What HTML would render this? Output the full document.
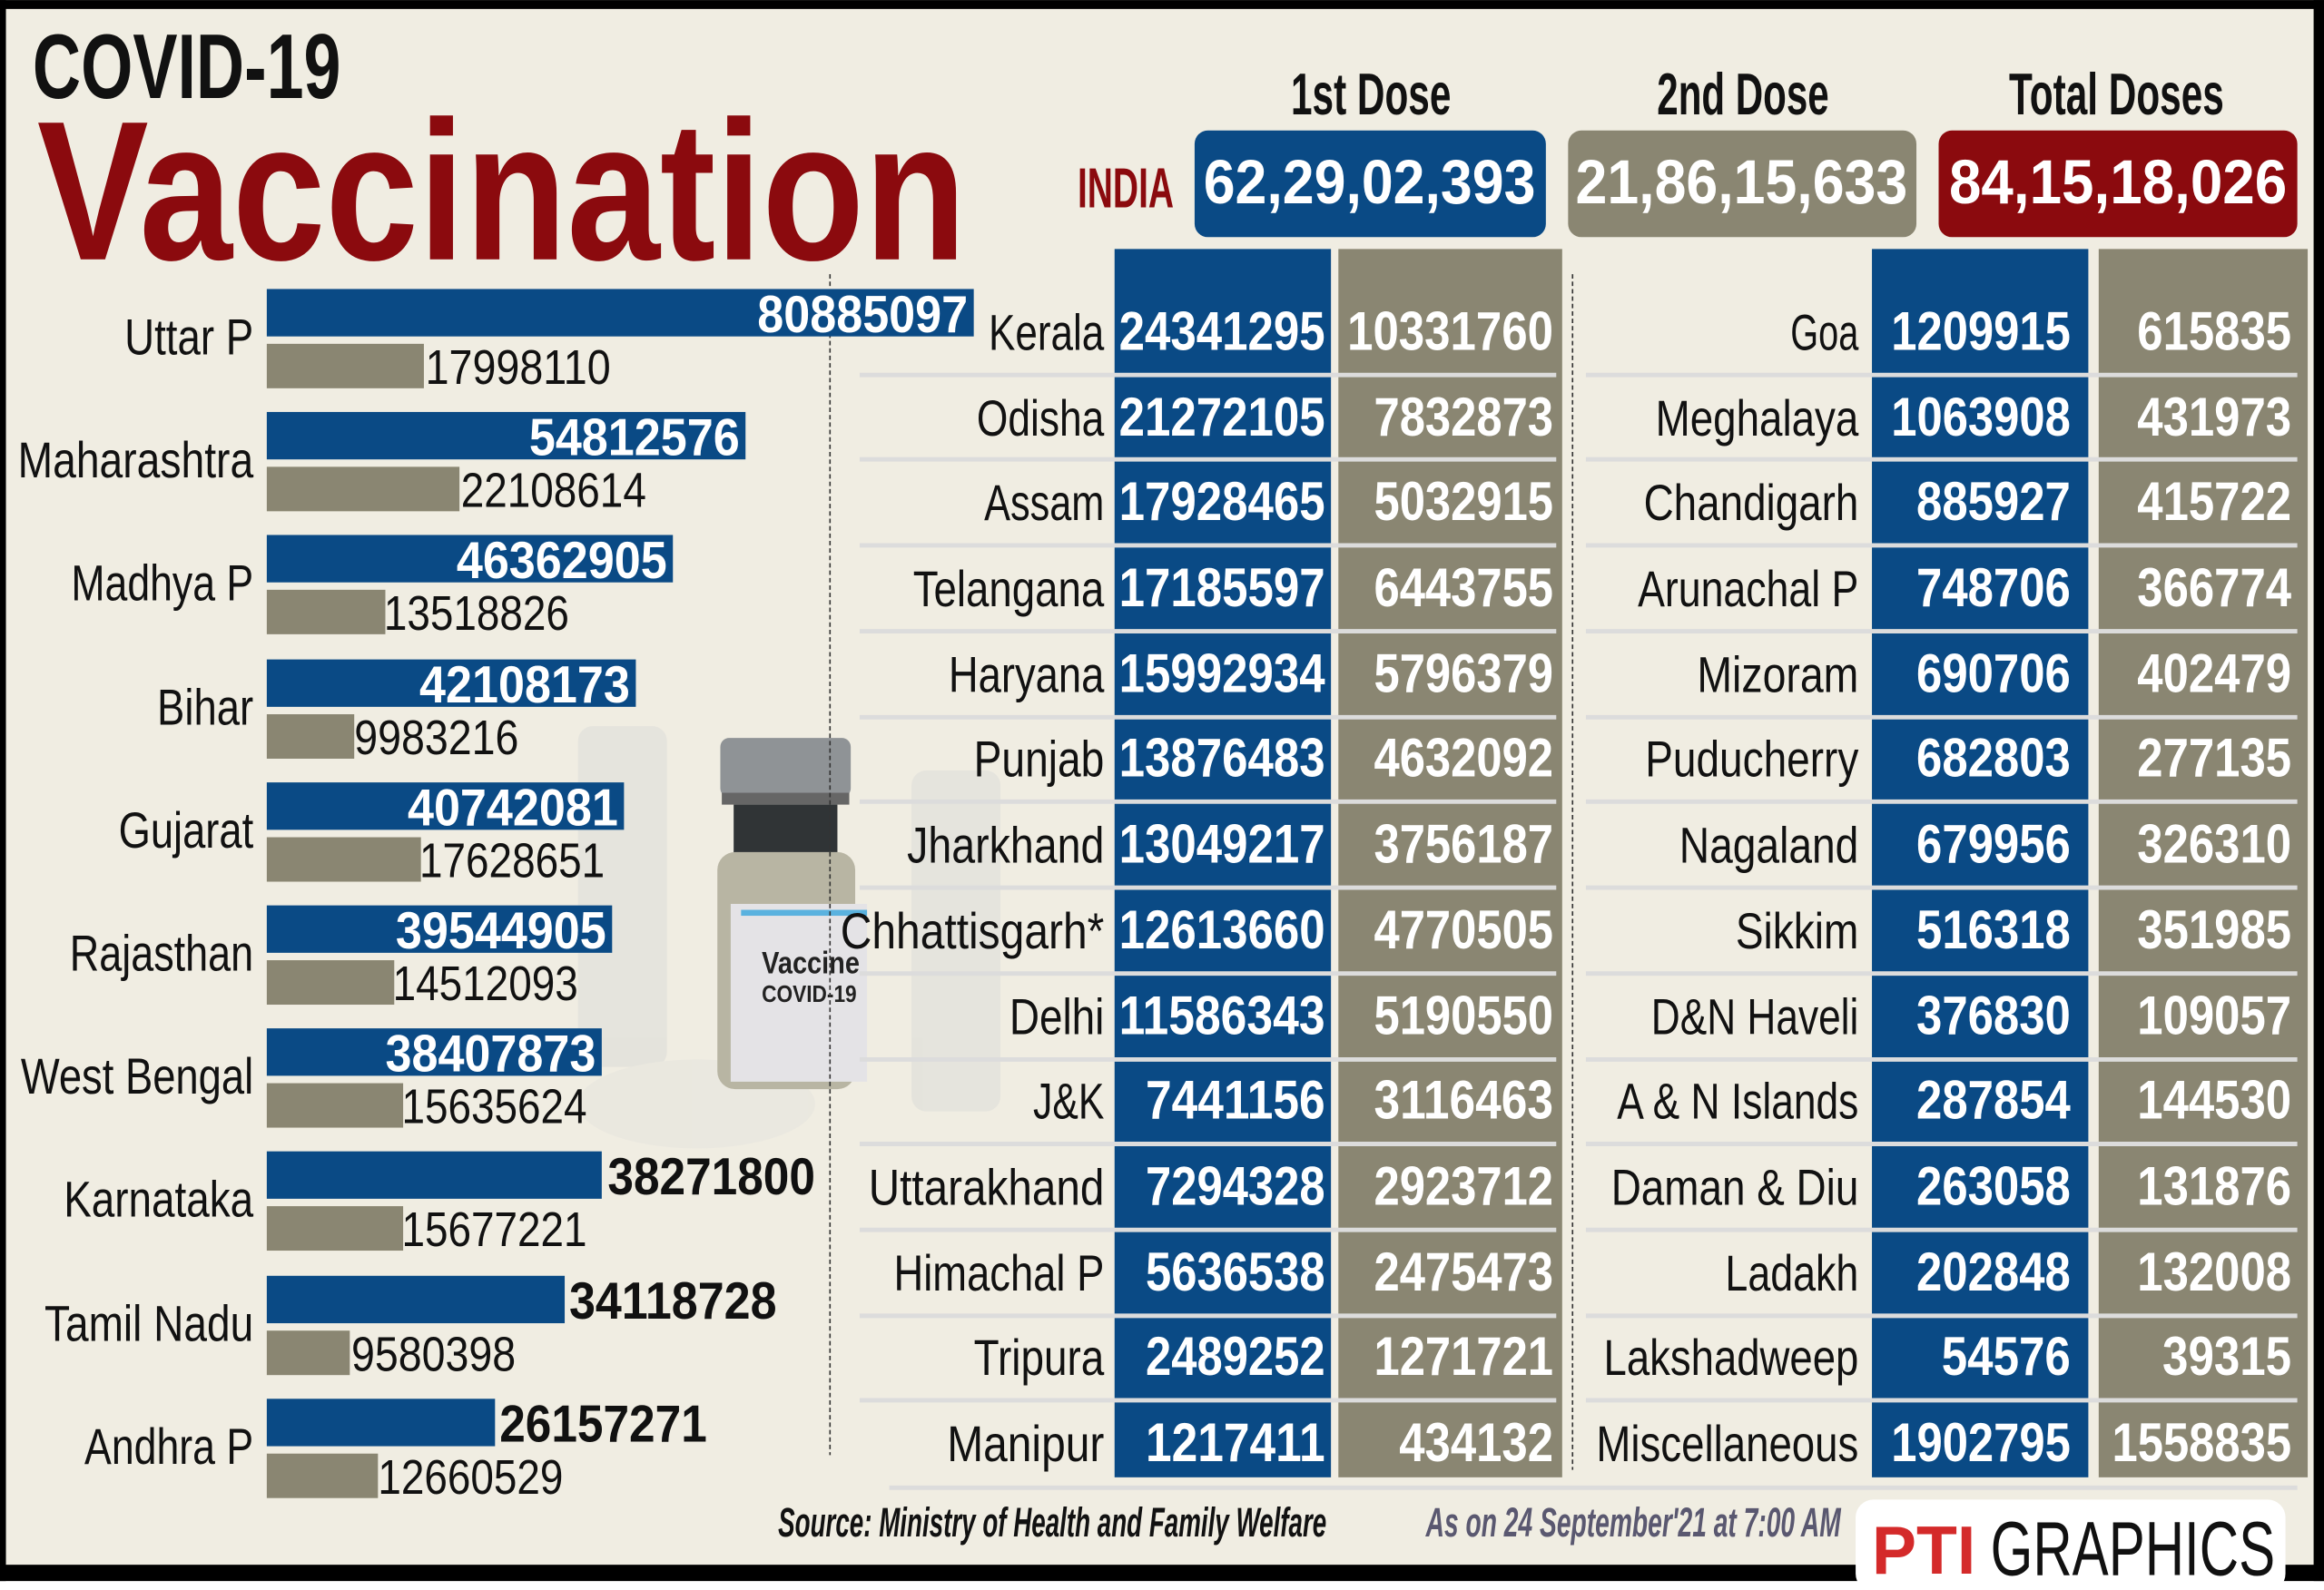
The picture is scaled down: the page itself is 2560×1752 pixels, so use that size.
<!DOCTYPE html>
<html><head><meta charset="utf-8"><style>
html,body{margin:0;padding:0;background:#fff;}
svg{display:block;}
text{font-family:"Liberation Sans Narrow","Liberation Sans",sans-serif;}
.nm{font-size:34px;fill:#111;text-anchor:end;}
.bv{font-size:35px;font-weight:bold;fill:#fff;text-anchor:end;}
.bo{font-size:35px;font-weight:bold;fill:#111;}
.gv{font-size:33px;fill:#111;}
.tv{font-size:37px;font-weight:bold;fill:#fff;text-anchor:end;}
</style></head><body>
<svg width="2560" height="1752" viewBox="0 0 1568 1073" xmlns="http://www.w3.org/2000/svg">
<rect x="0" y="0" width="1568" height="1073" fill="#fff"/>
<rect x="0" y="0" width="1568" height="1067" fill="#f0ede2"/>
<rect x="0" y="0" width="1568" height="6" fill="#000"/>
<rect x="0" y="0" width="4" height="1067" fill="#000"/>
<rect x="1561" y="0" width="7" height="1067" fill="#000"/>
<rect x="0" y="1056" width="1568" height="11" fill="#000"/>

<g opacity="0.55">
<rect x="390" y="490" width="60" height="230" rx="10" fill="#dcdcd8"/>
<rect x="615" y="520" width="60" height="230" rx="10" fill="#dcdcd8"/>
<ellipse cx="470" cy="745" rx="80" ry="30" fill="#e6e4de"/>
</g>
<rect x="486" y="498" width="88" height="40" rx="6" fill="#8f9396"/>
<rect x="487" y="535" width="86" height="8" fill="#666"/>
<rect x="495" y="543" width="70" height="35" fill="#303436"/>
<rect x="484" y="575" width="93" height="160" rx="12" fill="#b8b5a3"/>
<rect x="493" y="610" width="92" height="120" fill="#e4e3e6"/>
<rect x="500" y="614" width="85" height="4" fill="#5ab2df"/>
<text x="514" y="657" font-size="21" font-weight="bold" fill="#222" textLength="66" lengthAdjust="spacingAndGlyphs">Vaccine</text>
<text x="514" y="676" font-size="16" font-weight="bold" fill="#222" textLength="64" lengthAdjust="spacingAndGlyphs">COVID-19</text>

<text x="22" y="66" font-size="62" font-weight="bold" fill="#111" textLength="208" lengthAdjust="spacingAndGlyphs">COVID-19</text>
<text x="25" y="175" font-size="134" font-weight="bold" fill="#8b0a0e" textLength="627" lengthAdjust="spacingAndGlyphs">Vaccination</text>

<text x="925" y="77" font-size="40" font-weight="bold" fill="#111" text-anchor="middle" textLength="108" lengthAdjust="spacingAndGlyphs">1st Dose</text>
<text x="1176" y="77" font-size="40" font-weight="bold" fill="#111" text-anchor="middle" textLength="116" lengthAdjust="spacingAndGlyphs">2nd Dose</text>
<text x="1428" y="77" font-size="40" font-weight="bold" fill="#111" text-anchor="middle" textLength="145" lengthAdjust="spacingAndGlyphs">Total Doses</text>
<text x="727" y="140" font-size="38" font-weight="bold" fill="#8b0a0e" textLength="65" lengthAdjust="spacingAndGlyphs">INDIA</text>
<rect x="806" y="88" width="237" height="72" rx="9" fill="#0a4a85"/>
<rect x="1058" y="88" width="235" height="72" rx="9" fill="#8a8672"/>
<rect x="1308" y="88" width="242" height="72" rx="9" fill="#8b0a0e"/>
<text x="924" y="137" font-size="42" font-weight="bold" fill="#fff" text-anchor="middle" textLength="224" lengthAdjust="spacingAndGlyphs">62,29,02,393</text>
<text x="1175" y="137" font-size="42" font-weight="bold" fill="#fff" text-anchor="middle" textLength="224" lengthAdjust="spacingAndGlyphs">21,86,15,633</text>
<text x="1429" y="137" font-size="42" font-weight="bold" fill="#fff" text-anchor="middle" textLength="228" lengthAdjust="spacingAndGlyphs">84,15,18,026</text>

<line x1="560" y1="185" x2="560" y2="982" stroke="#333" stroke-width="1" stroke-dasharray="3,2"/>
<line x1="1061" y1="185" x2="1061" y2="992" stroke="#333" stroke-width="1" stroke-dasharray="3,2"/>

<g transform="translate(0,195)"><text class="nm" x="171" y="44" textLength="87" lengthAdjust="spacingAndGlyphs">Uttar P</text><rect x="180" y="0" width="477" height="32" fill="#0a4a85"/><rect x="180" y="37" width="106" height="30" fill="#8a8672"/><text class="bv" x="653" y="29" textLength="142" lengthAdjust="spacingAndGlyphs">80885097</text><text class="gv" x="287" y="64" textLength="125" lengthAdjust="spacingAndGlyphs">17998110</text></g>
<g transform="translate(0,278)"><text class="nm" x="171" y="44" textLength="159" lengthAdjust="spacingAndGlyphs">Maharashtra</text><rect x="180" y="0" width="323" height="32" fill="#0a4a85"/><rect x="180" y="37" width="130" height="30" fill="#8a8672"/><text class="bv" x="499" y="29" textLength="142" lengthAdjust="spacingAndGlyphs">54812576</text><text class="gv" x="311" y="64" textLength="125" lengthAdjust="spacingAndGlyphs">22108614</text></g>
<g transform="translate(0,361)"><text class="nm" x="171" y="44" textLength="123" lengthAdjust="spacingAndGlyphs">Madhya P</text><rect x="180" y="0" width="274" height="32" fill="#0a4a85"/><rect x="180" y="37" width="80" height="30" fill="#8a8672"/><text class="bv" x="450" y="29" textLength="142" lengthAdjust="spacingAndGlyphs">46362905</text><text class="gv" x="259" y="64" textLength="125" lengthAdjust="spacingAndGlyphs">13518826</text></g>
<g transform="translate(0,445)"><text class="nm" x="171" y="44" textLength="65" lengthAdjust="spacingAndGlyphs">Bihar</text><rect x="180" y="0" width="249" height="32" fill="#0a4a85"/><rect x="180" y="37" width="59" height="30" fill="#8a8672"/><text class="bv" x="425" y="29" textLength="142" lengthAdjust="spacingAndGlyphs">42108173</text><text class="gv" x="239" y="64" textLength="111" lengthAdjust="spacingAndGlyphs">9983216</text></g>
<g transform="translate(0,528)"><text class="nm" x="171" y="44" textLength="91" lengthAdjust="spacingAndGlyphs">Gujarat</text><rect x="180" y="0" width="241" height="32" fill="#0a4a85"/><rect x="180" y="37" width="104" height="30" fill="#8a8672"/><text class="bv" x="417" y="29" textLength="142" lengthAdjust="spacingAndGlyphs">40742081</text><text class="gv" x="283" y="64" textLength="125" lengthAdjust="spacingAndGlyphs">17628651</text></g>
<g transform="translate(0,611)"><text class="nm" x="171" y="44" textLength="124" lengthAdjust="spacingAndGlyphs">Rajasthan</text><rect x="180" y="0" width="233" height="32" fill="#0a4a85"/><rect x="180" y="37" width="86" height="30" fill="#8a8672"/><text class="bv" x="409" y="29" textLength="142" lengthAdjust="spacingAndGlyphs">39544905</text><text class="gv" x="265" y="64" textLength="125" lengthAdjust="spacingAndGlyphs">14512093</text></g>
<g transform="translate(0,694)"><text class="nm" x="171" y="44" textLength="157" lengthAdjust="spacingAndGlyphs">West Bengal</text><rect x="180" y="0" width="226" height="32" fill="#0a4a85"/><rect x="180" y="37" width="92" height="30" fill="#8a8672"/><text class="bv" x="402" y="29" textLength="142" lengthAdjust="spacingAndGlyphs">38407873</text><text class="gv" x="271" y="64" textLength="125" lengthAdjust="spacingAndGlyphs">15635624</text></g>
<g transform="translate(0,777)"><text class="nm" x="171" y="44" textLength="128" lengthAdjust="spacingAndGlyphs">Karnataka</text><rect x="180" y="0" width="226" height="32" fill="#0a4a85"/><rect x="180" y="37" width="92" height="30" fill="#8a8672"/><text class="bo" x="410" y="29" textLength="140" lengthAdjust="spacingAndGlyphs">38271800</text><text class="gv" x="271" y="64" textLength="125" lengthAdjust="spacingAndGlyphs">15677221</text></g>
<g transform="translate(0,861)"><text class="nm" x="171" y="44" textLength="141" lengthAdjust="spacingAndGlyphs">Tamil Nadu</text><rect x="180" y="0" width="201" height="32" fill="#0a4a85"/><rect x="180" y="37" width="56" height="30" fill="#8a8672"/><text class="bo" x="384" y="29" textLength="140" lengthAdjust="spacingAndGlyphs">34118728</text><text class="gv" x="237" y="64" textLength="111" lengthAdjust="spacingAndGlyphs">9580398</text></g>
<g transform="translate(0,944)"><text class="nm" x="171" y="44" textLength="114" lengthAdjust="spacingAndGlyphs">Andhra P</text><rect x="180" y="0" width="154" height="32" fill="#0a4a85"/><rect x="180" y="37" width="75" height="30" fill="#8a8672"/><text class="bo" x="337" y="29" textLength="140" lengthAdjust="spacingAndGlyphs">26157271</text><text class="gv" x="255" y="64" textLength="125" lengthAdjust="spacingAndGlyphs">12660529</text></g>

<rect x="752" y="168" width="146" height="829" fill="#0a4a85"/>
<rect x="903" y="168" width="151" height="829" fill="#8a8672"/>
<rect x="1263" y="168" width="146" height="829" fill="#0a4a85"/>
<rect x="1416" y="168" width="141" height="829" fill="#8a8672"/>
<g stroke="#dcdcdc" stroke-width="3">
<line x1="580" y1="253" x2="1050" y2="253"/><line x1="580" y1="310" x2="1050" y2="310"/><line x1="580" y1="368" x2="1050" y2="368"/><line x1="580" y1="426" x2="1050" y2="426"/><line x1="580" y1="484" x2="1050" y2="484"/><line x1="580" y1="541" x2="1050" y2="541"/><line x1="580" y1="599" x2="1050" y2="599"/><line x1="580" y1="657" x2="1050" y2="657"/><line x1="580" y1="715" x2="1050" y2="715"/><line x1="580" y1="772" x2="1050" y2="772"/><line x1="580" y1="830" x2="1050" y2="830"/><line x1="580" y1="888" x2="1050" y2="888"/><line x1="580" y1="945" x2="1050" y2="945"/>
<line x1="1070" y1="253" x2="1550" y2="253"/><line x1="1070" y1="310" x2="1550" y2="310"/><line x1="1070" y1="368" x2="1550" y2="368"/><line x1="1070" y1="426" x2="1550" y2="426"/><line x1="1070" y1="484" x2="1550" y2="484"/><line x1="1070" y1="541" x2="1550" y2="541"/><line x1="1070" y1="599" x2="1550" y2="599"/><line x1="1070" y1="657" x2="1550" y2="657"/><line x1="1070" y1="715" x2="1550" y2="715"/><line x1="1070" y1="772" x2="1550" y2="772"/><line x1="1070" y1="830" x2="1550" y2="830"/><line x1="1070" y1="888" x2="1550" y2="888"/><line x1="1070" y1="945" x2="1550" y2="945"/>
<line x1="600" y1="1004" x2="1550" y2="1004"/>
</g>

<text class="nm" x="745" y="236" textLength="78" lengthAdjust="spacingAndGlyphs">Kerala</text>
<text class="nm" x="745" y="294" textLength="86" lengthAdjust="spacingAndGlyphs">Odisha</text>
<text class="nm" x="745" y="351" textLength="81" lengthAdjust="spacingAndGlyphs">Assam</text>
<text class="nm" x="745" y="409" textLength="129" lengthAdjust="spacingAndGlyphs">Telangana</text>
<text class="nm" x="745" y="467" textLength="105" lengthAdjust="spacingAndGlyphs">Haryana</text>
<text class="nm" x="745" y="524" textLength="88" lengthAdjust="spacingAndGlyphs">Punjab</text>
<text class="nm" x="745" y="582" textLength="133" lengthAdjust="spacingAndGlyphs">Jharkhand</text>
<text class="nm" x="745" y="640" textLength="178" lengthAdjust="spacingAndGlyphs">Chhattisgarh*</text>
<text class="nm" x="745" y="698" textLength="64" lengthAdjust="spacingAndGlyphs">Delhi</text>
<text class="nm" x="745" y="755" textLength="48" lengthAdjust="spacingAndGlyphs">J&amp;K</text>
<text class="nm" x="745" y="813" textLength="159" lengthAdjust="spacingAndGlyphs">Uttarakhand</text>
<text class="nm" x="745" y="871" textLength="142" lengthAdjust="spacingAndGlyphs">Himachal P</text>
<text class="nm" x="745" y="928" textLength="88" lengthAdjust="spacingAndGlyphs">Tripura</text>
<text class="nm" x="745" y="986" textLength="106" lengthAdjust="spacingAndGlyphs">Manipur</text>

<text class="tv" x="894" y="236" textLength="139" lengthAdjust="spacingAndGlyphs">24341295</text><text class="tv" x="1048" y="236" textLength="139" lengthAdjust="spacingAndGlyphs">10331760</text>
<text class="tv" x="894" y="294" textLength="139" lengthAdjust="spacingAndGlyphs">21272105</text><text class="tv" x="1048" y="294" textLength="121" lengthAdjust="spacingAndGlyphs">7832873</text>
<text class="tv" x="894" y="351" textLength="139" lengthAdjust="spacingAndGlyphs">17928465</text><text class="tv" x="1048" y="351" textLength="121" lengthAdjust="spacingAndGlyphs">5032915</text>
<text class="tv" x="894" y="409" textLength="139" lengthAdjust="spacingAndGlyphs">17185597</text><text class="tv" x="1048" y="409" textLength="121" lengthAdjust="spacingAndGlyphs">6443755</text>
<text class="tv" x="894" y="467" textLength="139" lengthAdjust="spacingAndGlyphs">15992934</text><text class="tv" x="1048" y="467" textLength="121" lengthAdjust="spacingAndGlyphs">5796379</text>
<text class="tv" x="894" y="524" textLength="139" lengthAdjust="spacingAndGlyphs">13876483</text><text class="tv" x="1048" y="524" textLength="121" lengthAdjust="spacingAndGlyphs">4632092</text>
<text class="tv" x="894" y="582" textLength="139" lengthAdjust="spacingAndGlyphs">13049217</text><text class="tv" x="1048" y="582" textLength="121" lengthAdjust="spacingAndGlyphs">3756187</text>
<text class="tv" x="894" y="640" textLength="139" lengthAdjust="spacingAndGlyphs">12613660</text><text class="tv" x="1048" y="640" textLength="121" lengthAdjust="spacingAndGlyphs">4770505</text>
<text class="tv" x="894" y="698" textLength="139" lengthAdjust="spacingAndGlyphs">11586343</text><text class="tv" x="1048" y="698" textLength="121" lengthAdjust="spacingAndGlyphs">5190550</text>
<text class="tv" x="894" y="755" textLength="121" lengthAdjust="spacingAndGlyphs">7441156</text><text class="tv" x="1048" y="755" textLength="121" lengthAdjust="spacingAndGlyphs">3116463</text>
<text class="tv" x="894" y="813" textLength="121" lengthAdjust="spacingAndGlyphs">7294328</text><text class="tv" x="1048" y="813" textLength="121" lengthAdjust="spacingAndGlyphs">2923712</text>
<text class="tv" x="894" y="871" textLength="121" lengthAdjust="spacingAndGlyphs">5636538</text><text class="tv" x="1048" y="871" textLength="121" lengthAdjust="spacingAndGlyphs">2475473</text>
<text class="tv" x="894" y="928" textLength="121" lengthAdjust="spacingAndGlyphs">2489252</text><text class="tv" x="1048" y="928" textLength="121" lengthAdjust="spacingAndGlyphs">1271721</text>
<text class="tv" x="894" y="986" textLength="121" lengthAdjust="spacingAndGlyphs">1217411</text><text class="tv" x="1048" y="986" textLength="104" lengthAdjust="spacingAndGlyphs">434132</text>

<text class="nm" x="1254" y="236" textLength="46" lengthAdjust="spacingAndGlyphs">Goa</text>
<text class="nm" x="1254" y="294" textLength="137" lengthAdjust="spacingAndGlyphs">Meghalaya</text>
<text class="nm" x="1254" y="351" textLength="145" lengthAdjust="spacingAndGlyphs">Chandigarh</text>
<text class="nm" x="1254" y="409" textLength="149" lengthAdjust="spacingAndGlyphs">Arunachal P</text>
<text class="nm" x="1254" y="467" textLength="109" lengthAdjust="spacingAndGlyphs">Mizoram</text>
<text class="nm" x="1254" y="524" textLength="144" lengthAdjust="spacingAndGlyphs">Puducherry</text>
<text class="nm" x="1254" y="582" textLength="121" lengthAdjust="spacingAndGlyphs">Nagaland</text>
<text class="nm" x="1254" y="640" textLength="83" lengthAdjust="spacingAndGlyphs">Sikkim</text>
<text class="nm" x="1254" y="698" textLength="140" lengthAdjust="spacingAndGlyphs">D&amp;N Haveli</text>
<text class="nm" x="1254" y="755" textLength="163" lengthAdjust="spacingAndGlyphs">A &amp; N Islands</text>
<text class="nm" x="1254" y="813" textLength="167" lengthAdjust="spacingAndGlyphs">Daman &amp; Diu</text>
<text class="nm" x="1254" y="871" textLength="90" lengthAdjust="spacingAndGlyphs">Ladakh</text>
<text class="nm" x="1254" y="928" textLength="172" lengthAdjust="spacingAndGlyphs">Lakshadweep</text>
<text class="nm" x="1254" y="986" textLength="177" lengthAdjust="spacingAndGlyphs">Miscellaneous</text>

<text class="tv" x="1397" y="236" textLength="121" lengthAdjust="spacingAndGlyphs">1209915</text><text class="tv" x="1546" y="236" textLength="104" lengthAdjust="spacingAndGlyphs">615835</text>
<text class="tv" x="1397" y="294" textLength="121" lengthAdjust="spacingAndGlyphs">1063908</text><text class="tv" x="1546" y="294" textLength="104" lengthAdjust="spacingAndGlyphs">431973</text>
<text class="tv" x="1397" y="351" textLength="104" lengthAdjust="spacingAndGlyphs">885927</text><text class="tv" x="1546" y="351" textLength="104" lengthAdjust="spacingAndGlyphs">415722</text>
<text class="tv" x="1397" y="409" textLength="104" lengthAdjust="spacingAndGlyphs">748706</text><text class="tv" x="1546" y="409" textLength="104" lengthAdjust="spacingAndGlyphs">366774</text>
<text class="tv" x="1397" y="467" textLength="104" lengthAdjust="spacingAndGlyphs">690706</text><text class="tv" x="1546" y="467" textLength="104" lengthAdjust="spacingAndGlyphs">402479</text>
<text class="tv" x="1397" y="524" textLength="104" lengthAdjust="spacingAndGlyphs">682803</text><text class="tv" x="1546" y="524" textLength="104" lengthAdjust="spacingAndGlyphs">277135</text>
<text class="tv" x="1397" y="582" textLength="104" lengthAdjust="spacingAndGlyphs">679956</text><text class="tv" x="1546" y="582" textLength="104" lengthAdjust="spacingAndGlyphs">326310</text>
<text class="tv" x="1397" y="640" textLength="104" lengthAdjust="spacingAndGlyphs">516318</text><text class="tv" x="1546" y="640" textLength="104" lengthAdjust="spacingAndGlyphs">351985</text>
<text class="tv" x="1397" y="698" textLength="104" lengthAdjust="spacingAndGlyphs">376830</text><text class="tv" x="1546" y="698" textLength="104" lengthAdjust="spacingAndGlyphs">109057</text>
<text class="tv" x="1397" y="755" textLength="104" lengthAdjust="spacingAndGlyphs">287854</text><text class="tv" x="1546" y="755" textLength="104" lengthAdjust="spacingAndGlyphs">144530</text>
<text class="tv" x="1397" y="813" textLength="104" lengthAdjust="spacingAndGlyphs">263058</text><text class="tv" x="1546" y="813" textLength="104" lengthAdjust="spacingAndGlyphs">131876</text>
<text class="tv" x="1397" y="871" textLength="104" lengthAdjust="spacingAndGlyphs">202848</text><text class="tv" x="1546" y="871" textLength="104" lengthAdjust="spacingAndGlyphs">132008</text>
<text class="tv" x="1397" y="928" textLength="87" lengthAdjust="spacingAndGlyphs">54576</text><text class="tv" x="1546" y="928" textLength="87" lengthAdjust="spacingAndGlyphs">39315</text>
<text class="tv" x="1397" y="986" textLength="121" lengthAdjust="spacingAndGlyphs">1902795</text><text class="tv" x="1546" y="986" textLength="121" lengthAdjust="spacingAndGlyphs">1558835</text>

<text x="525" y="1037" font-size="28" font-weight="bold" font-style="italic" fill="#111" textLength="370" lengthAdjust="spacingAndGlyphs">Source: Ministry of Health and Family Welfare</text>
<text x="962" y="1037" font-size="28" font-weight="bold" font-style="italic" fill="#5a5870" textLength="280" lengthAdjust="spacingAndGlyphs">As on 24 September'21 at 7:00 AM</text>
<rect x="1252" y="1012" width="290" height="62" rx="12" fill="#fff"/>
<text x="1263" y="1062" font-size="46" font-weight="bold" fill="#d42a2a" textLength="70" lengthAdjust="spacingAndGlyphs">PTI</text>
<text x="1343" y="1063" font-size="52" fill="#111" textLength="192" lengthAdjust="spacingAndGlyphs">GRAPHICS</text>
</svg>
</body></html>
